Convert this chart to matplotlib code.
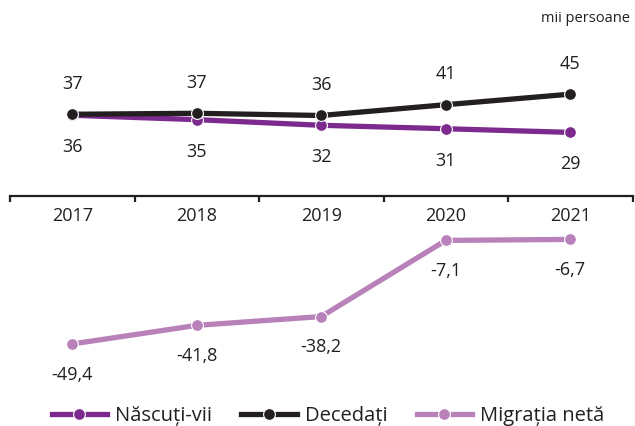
import matplotlib
matplotlib.use("Agg")
import matplotlib.pyplot as plt
from matplotlib.ticker import FixedLocator, NullFormatter

years = ["2017", "2018", "2019", "2020", "2021"]
nascuti_vii = [36.4, 34.6, 32.3, 30.9, 29.4]
decedati = [36.8, 37.2, 36.3, 40.7, 45.0]
migratia_neta = [-49.4, -41.8, -38.2, -7.1, -6.7]
series_names = ["Născuți-vii", "Decedați", "Migrația netă"]
unit_label = "mii persoane"

C_NASC = "#7d2a8e"
C_DEC = "#231f20"
C_MIG = "#b981b9"
C_TXT = "#231f20"

plt.rcParams['font.family'] = ['Open Sans', 'DejaVu Sans']
W, H = 635, 426
fig = plt.figure(figsize=(W / 100, H / 100), dpi=100)

def frac(x0, y0, x1, y1):
    return [x0 / W, 1 - y1 / H, (x1 - x0) / W, (y1 - y0) / H]

x = list(range(len(years)))
FS = 13

# top axes: births/deaths, bottom spine is the category axis
ax = fig.add_axes(frac(10, 40, 632.5, 196))
ax.set_xlim(-0.5, 4.5)
ax.set_ylim(3.45, 67.1)
for s in ["top", "right", "left"]:
    ax.spines[s].set_visible(False)
ax.spines["bottom"].set_linewidth(1.6)
ax.spines["bottom"].set_color(C_DEC)
ax.set_yticks([])
ax.set_xticks(x)
ax.set_xticklabels(years, fontsize=FS, color=C_TXT)
ax.tick_params(axis="x", which="major", length=0, pad=8)
ax.xaxis.set_minor_locator(FixedLocator([i - 0.5 for i in range(len(years) + 1)]))
ax.xaxis.set_minor_formatter(NullFormatter())
ax.tick_params(axis="x", which="minor", length=4, width=1.6, color=C_DEC, direction="out")

lw, ms = 3.8, 8.5
l1, = ax.plot(x, nascuti_vii, color=C_NASC, lw=lw, marker="o", ms=ms,
              mec="white", mew=0.8, zorder=3, clip_on=False, label=series_names[0])
l2, = ax.plot(x, decedati, color=C_DEC, lw=lw, marker="o", ms=ms,
              mec="white", mew=0.8, zorder=4, clip_on=False, label=series_names[1])
for xi, v in zip(x, decedati):
    ax.annotate(f"{v:.0f}", (xi, v), xytext=(0, 22), textcoords="offset points",
                ha="center", va="center", fontsize=FS, color=C_TXT)
for xi, v in zip(x, nascuti_vii):
    ax.annotate(f"{v:.0f}", (xi, v), xytext=(0, -23), textcoords="offset points",
                ha="center", va="center", fontsize=FS, color=C_TXT)

# bottom axes: net migration
ax2 = fig.add_axes(frac(10, 200, 632.5, 390), sharex=ax)
ax2.set_ylim(-68.2, 9.4)
ax2.axis("off")
l3, = ax2.plot(x, migratia_neta, color=C_MIG, lw=lw, marker="o", ms=ms,
               mec="white", mew=0.8, zorder=3, clip_on=False, label=series_names[2])
for xi, v in zip(x, migratia_neta):
    ax2.annotate(f"{v:.1f}".replace(".", ","), (xi, v), xytext=(0, -22),
                 textcoords="offset points", ha="center", va="center",
                 fontsize=FS, color=C_TXT)

fig.text(630 / W, 1 - 19 / H, unit_label, ha="right", va="center",
         fontsize=10.5, color=C_TXT)

LFS = 14.5
fig.legend(handles=[l1, l2, l3], loc="center", bbox_to_anchor=(328 / W, 1 - 416 / H),
           ncol=3, frameon=False, fontsize=LFS, handlelength=2.75,
           handletextpad=0.4, columnspacing=1.45, labelcolor=C_TXT,
           borderpad=0, borderaxespad=0)

fig.savefig("out.png", dpi=100)
